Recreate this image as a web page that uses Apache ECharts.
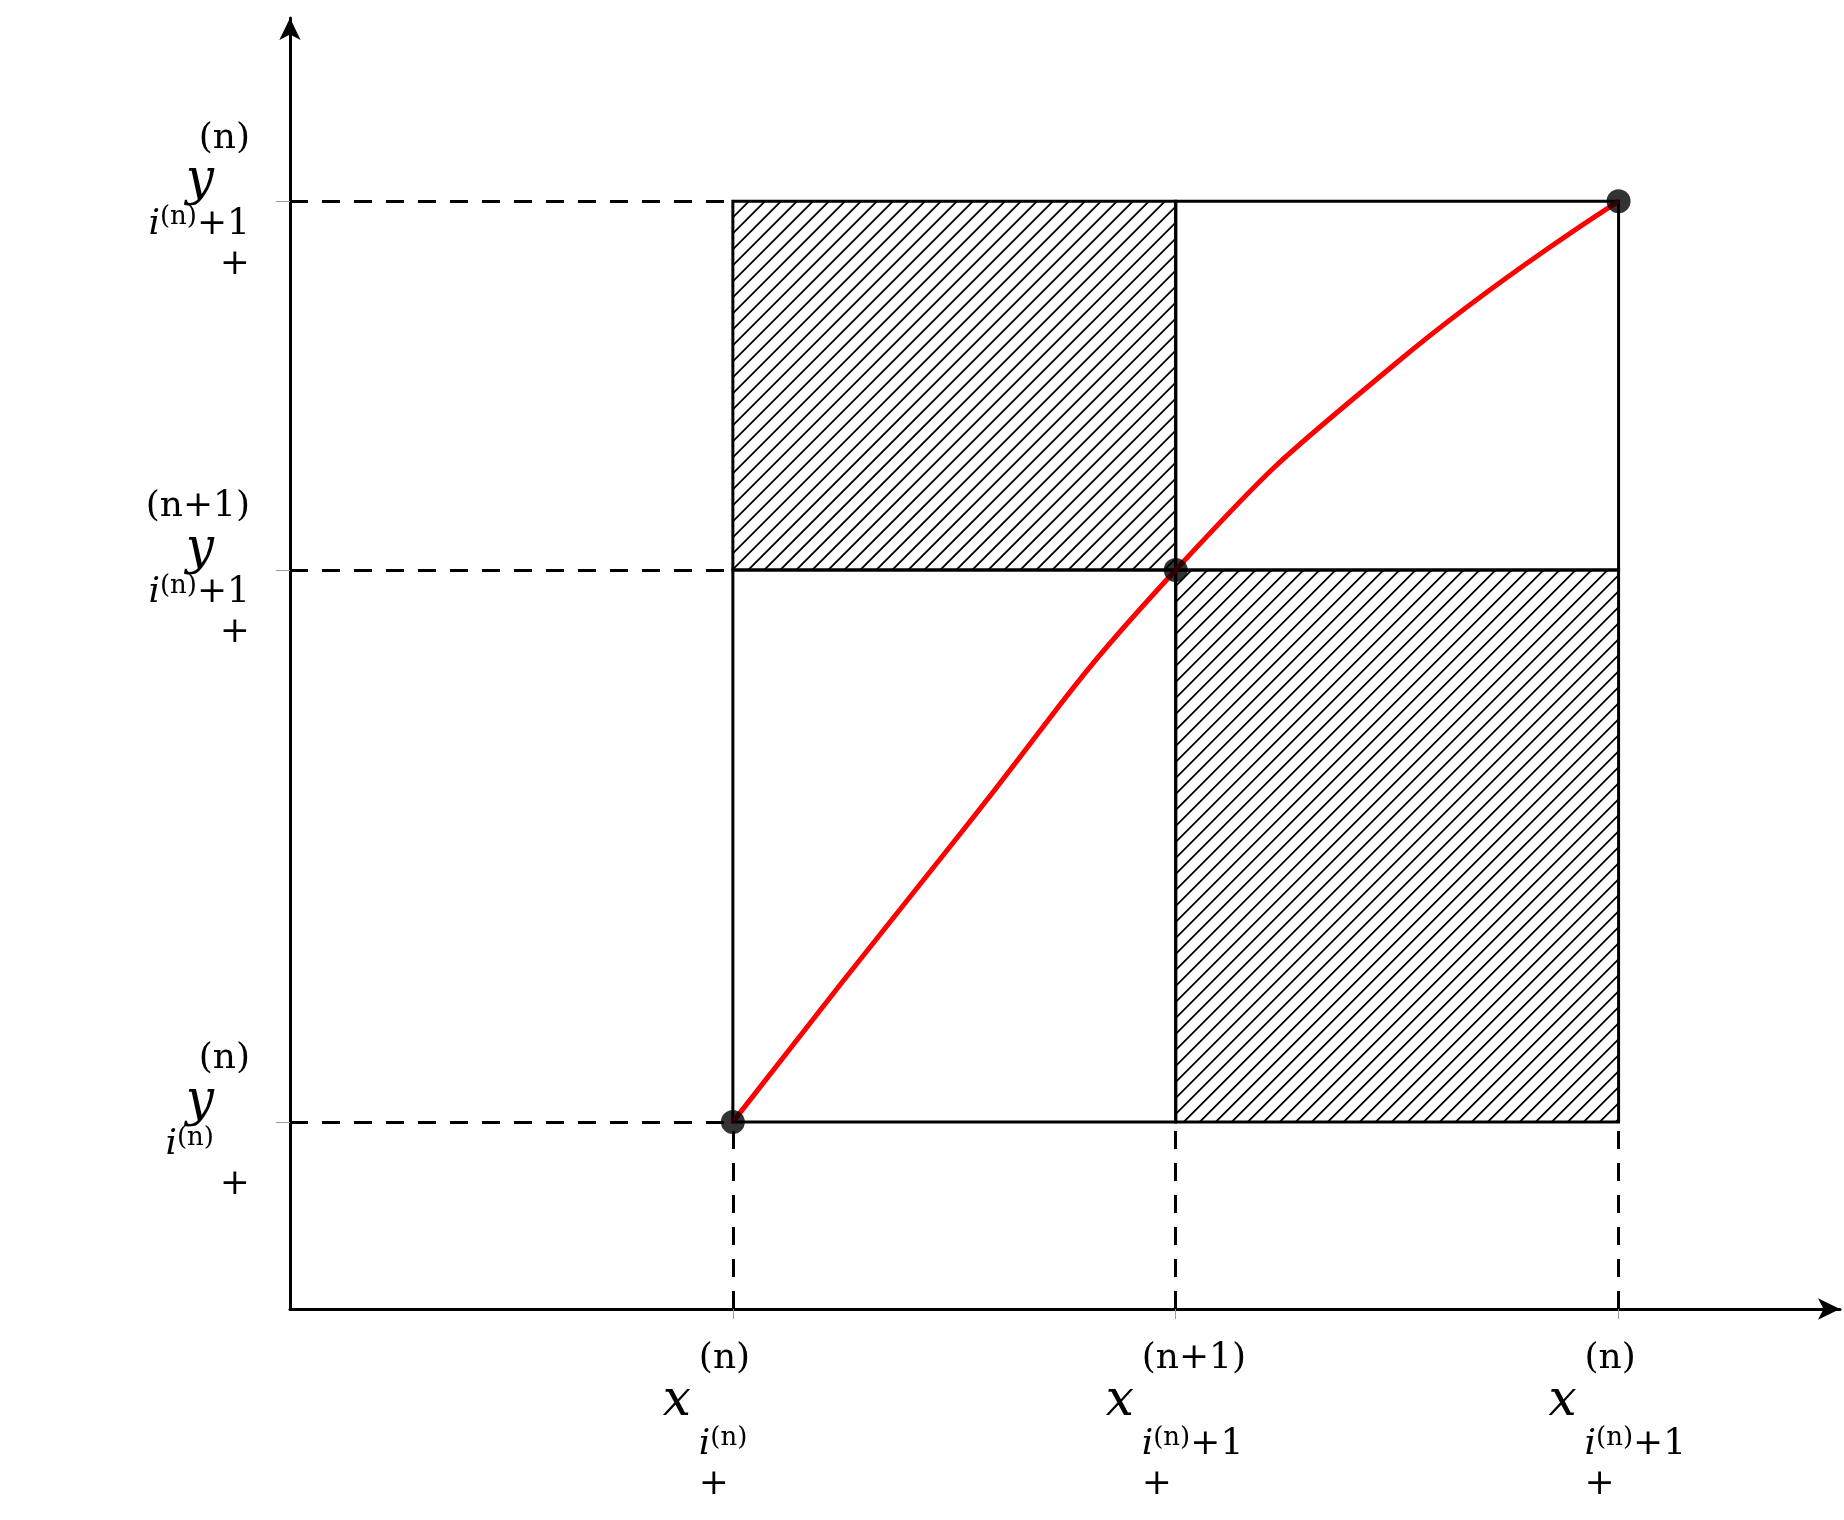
<!DOCTYPE html>
<html>
<head>
<meta charset="utf-8">
<script src="https://cdn.jsdelivr.net/npm/echarts@6/dist/echarts.min.js"></script>
<style>html,body{margin:0;background:#fff}#c{width:1844px;height:1520px}</style>
</head>
<body>
<div id="c"></div>
<script>
// tick positions
var xTicks = [1, 2, 3];
var yTicks = [1, 3.95, 5.92];
// red curve samples
var curveX = [1, 1.5, 2, 2.5, 3];
var curveY = [1, 2.5, 3.95, 5.06, 5.92];
// black dots
var dotX = [1, 2, 3];
var dotY = [1, 3.95, 5.92];
// cells: x0, y0, x1, y1, hatched
var cells = [
  [1, 3.95, 2, 5.92, 1],
  [2, 3.95, 3, 5.92, 0],
  [1, 1, 2, 3.95, 0],
  [2, 1, 3, 3.95, 1]
];

var serif = 'DejaVu Serif';
var rich = {
  v: {fontFamily: serif, fontStyle: 'italic', fontSize: 50, lineHeight: 46},
  sup: {fontFamily: serif, fontSize: 36, lineHeight: 40},
  si: {fontFamily: serif, fontStyle: 'italic', fontSize: 36, lineHeight: 40},
  ss: {fontFamily: serif, fontSize: 26, lineHeight: 40, verticalAlign: 'top'},
  pl: {fontFamily: serif, fontSize: 36, lineHeight: 40},
  sp: {fontSize: 36, width: 36}
};
var xLab = {1: ['x', '(n)', false], 2: ['x', '(n+1)', true], 3: ['x', '(n)', true]};
var yLab = {1: ['y', '(n)', false], 3.95: ['y', '(n+1)', true], 5.92: ['y', '(n)', true]};
function mathLabel(l) {
  return '{sp|}{sup|' + l[1] + '}\n{v|' + l[0] + '}{sp|}' + '\n{sp|}{si|i}{ss|(n)}' + (l[2] ? '{pl|+1}' : '{sp|}') + '\n{sp|}{pl|+}';
}

var chart = echarts.init(document.getElementById('c'));

function hatchRect(params, api) {
  var p0 = api.coord([api.value(0), api.value(3)]);
  var p1 = api.coord([api.value(2), api.value(1)]);
  var w = p1[0] - p0[0], h = p1[1] - p0[1];
  var children = [];
  if (api.value(4)) {
    var lines = [];
    for (var d = -h; d < w + h; d += 16) {
      lines.push({type: 'line', shape: {x1: p0[0] + d, y1: p1[1], x2: p0[0] + d + h, y2: p0[1]},
        style: {stroke: '#000', lineWidth: 1.8}});
    }
    children.push({type: 'group', children: lines,
      clipPath: {type: 'rect', shape: {x: p0[0], y: p0[1], width: w, height: h}}});
  }
  children.push({type: 'rect', shape: {x: p0[0], y: p0[1], width: w, height: h},
    style: {fill: 'none', stroke: '#000', lineWidth: 3}});
  return {type: 'group', children: children};
}

var dashStyle = {color: '#000', type: [18, 14], width: 3};
var dashData = [];
yTicks.forEach(function (y) { dashData.push([{coord: [0, y]}, {coord: [1, y]}]); });
xTicks.forEach(function (x) { dashData.push([{coord: [x, 0]}, {coord: [x, 1]}]); });

chart.setOption({
  animation: false,
  grid: {left: 290, right: 4, top: 18, bottom: 211},
  xAxis: {
    type: 'value', min: 0, max: 3.5,
    splitLine: {show: false},
    axisLine: {symbol: ['none', 'arrow'], symbolSize: [16, 22], lineStyle: {color: '#000', width: 3}},
    axisTick: {customValues: xTicks, length: 10, lineStyle: {color: '#999', width: 1}},
    axisLabel: {customValues: xTicks, margin: 30, color: '#000', align: 'left',
      formatter: function (v) { return mathLabel(xLab[v]); }, rich: rich, padding: [0, 0, 0, -70]}
  },
  yAxis: {
    type: 'value', min: 0, max: 6.9,
    splitLine: {show: false},
    axisLine: {symbol: ['none', 'arrow'], symbolSize: [16, 22], lineStyle: {color: '#000', width: 3}},
    axisTick: {customValues: yTicks, length: 14, lineStyle: {color: '#999', width: 1}},
    axisLabel: {customValues: yTicks, margin: 40, color: '#000', align: 'right',
      formatter: function (v) { return mathLabel(yLab[v]); }, rich: rich}
  },
  series: [
    {type: 'custom', renderItem: hatchRect, data: cells, z: 1},
    {type: 'line', data: [], markLine: {silent: true, symbol: 'none', label: {show: false},
      lineStyle: dashStyle, data: dashData}},
    {type: 'line', smooth: true, showSymbol: false, z: 3,
      lineStyle: {color: '#ff0000', width: 5},
      data: curveX.map(function (x, i) { return [x, curveY[i]]; })},
    {type: 'scatter', symbolSize: 24, z: 4, itemStyle: {color: '#000'},
      data: dotX.map(function (x, i) { return [x, dotY[i]]; })}
  ]
});
</script>
</body>
</html>
